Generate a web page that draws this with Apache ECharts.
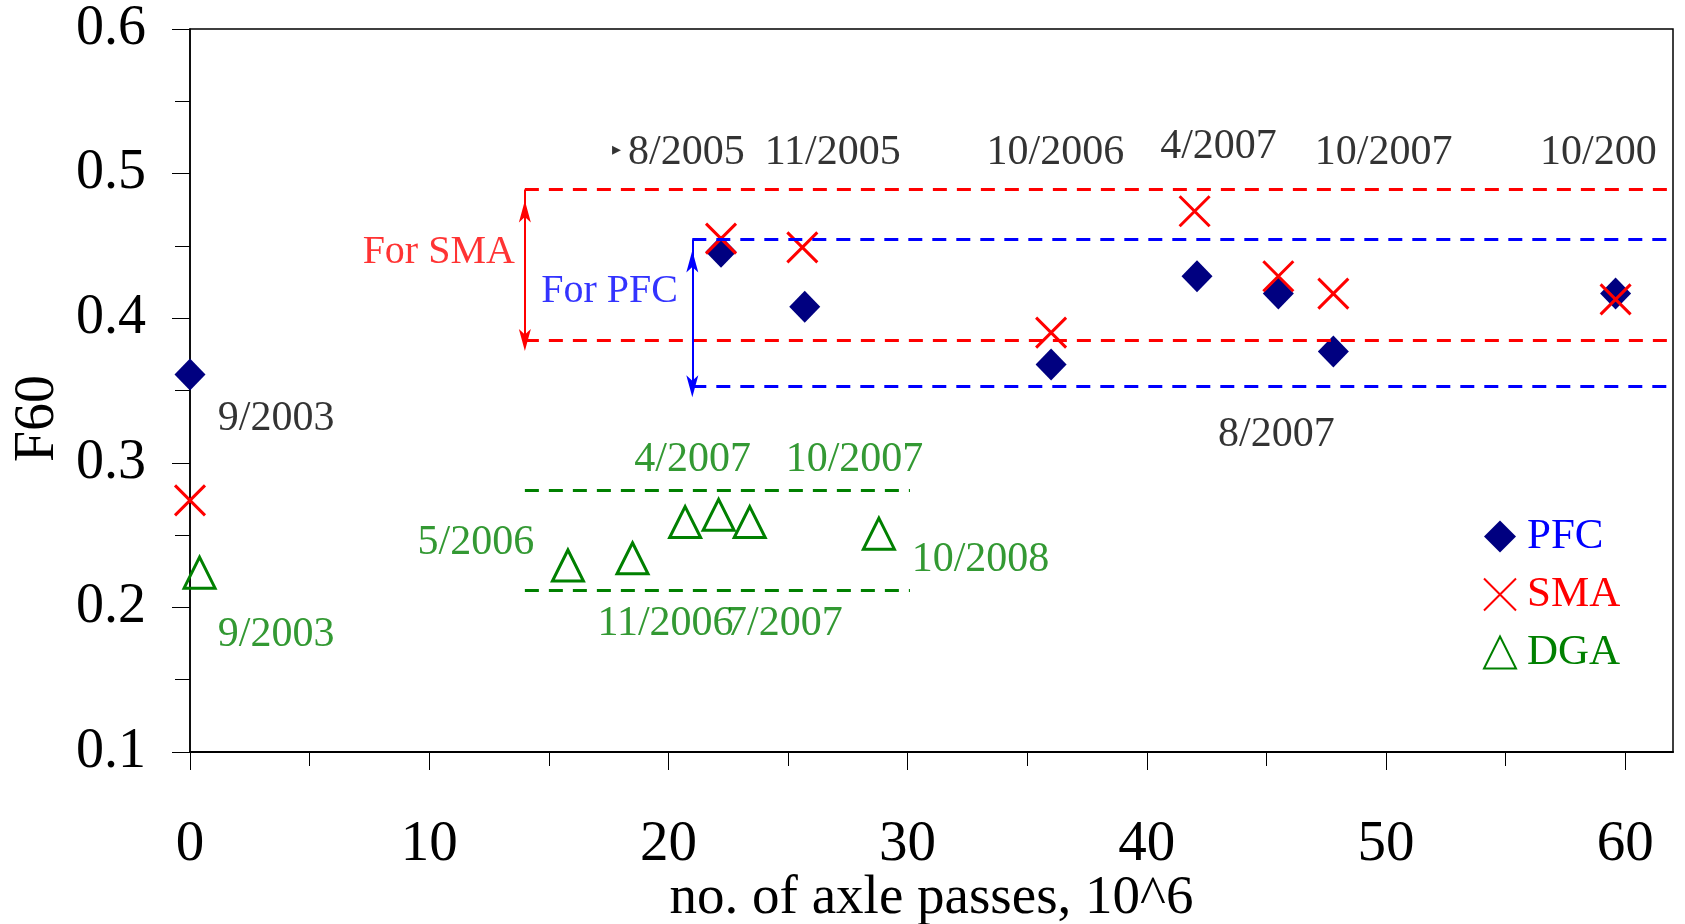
<!DOCTYPE html>
<html>
<head>
<meta charset="utf-8">
<script src="https://cdn.jsdelivr.net/npm/echarts@6/dist/echarts.min.js"></script>
<style>
html,body{margin:0;padding:0;background:#fff;}
#chart{width:1685px;height:924px;}
</style>
</head>
<body>
<div id="chart"></div>
<script>
// ---- data ----
const xMajorTicks = [0, 10, 20, 30, 40, 50, 60];
const xMinorTicks = [5, 15, 25, 35, 45, 55];

const pfcX = [0, 22.2, 25.7, 36.0, 42.1, 45.5, 47.8, 59.6];
const pfcY = [0.361, 0.446, 0.408, 0.368, 0.429, 0.417, 0.377, 0.417];

const smaX = [0, 22.2, 25.6, 36.0, 42.0, 45.5, 47.8, 59.6];
const smaY = [0.274, 0.455, 0.449, 0.390, 0.474, 0.429, 0.417, 0.413];

const dgaX = [0.4, 15.8, 18.5, 20.7, 22.1, 23.4, 28.8];
const dgaY = [0.224, 0.229, 0.234, 0.259, 0.264, 0.259, 0.251];

// range bands: [xStart, xEnd, yLow, yHigh]
const smaBand = [14, 62, 0.385, 0.489];
const pfcBand = [21, 62, 0.353, 0.4545];
const dgaBand = [14, 30.1, 0.212, 0.281];

// date annotations (anchored in data units)
const pfcLabelText = ['9/2003', '8/2005', '11/2005', '10/2006', '4/2007', '10/2007', '10/200', '8/2007'];
const pfcLabelX    = [3.6, 20.75, 26.87, 36.18, 43.0, 49.9, 58.88, 45.42];
const pfcLabelY    = [0.33, 0.5145, 0.5145, 0.5145, 0.5184, 0.5145, 0.5145, 0.3192];

const dgaLabelText = ['9/2003', '5/2006', '4/2007', '10/2007', '10/2008', '11/2006', '7/2007'];
const dgaLabelX    = [3.6, 11.95, 21.01, 27.78, 33.05, 19.88, 24.85];
const dgaLabelY    = [0.181, 0.2445, 0.302, 0.302, 0.2328, 0.1885, 0.1885];

const pointerText = ['▸'];
const pointerX = [17.83];
const pointerY = [0.516];

const bandText = ['For SMA', 'For PFC'];
const bandTextX = [10.4, 17.54];
const bandTextY = [0.4454, 0.4188];

// ---- chart ----
const FONT = 'Liberation Serif';
const zip = (xs, ys, extra) => xs.map((x, i) => extra ? [x, ys[i], extra[i]] : [x, ys[i]]);

const dash = [14, 10];
function bandLines(b, color) {
  return [
    [{coord: [b[0], b[3]]}, {coord: [b[1], b[3]]}],
    [{coord: [b[0], b[2]]}, {coord: [b[1], b[2]]}]
  ].map(seg => { seg[0].lineStyle = {color: color, type: dash, width: 3}; return seg; });
}

function labelSeries(name, xs, ys, texts, color, size) {
  return {
    name: name, type: 'scatter', symbolSize: 0, silent: true, z: 5,
    data: zip(xs, ys, texts),
    label: {
      show: true, position: 'inside', formatter: p => p.value[2],
      color: color, fontFamily: FONT, fontSize: size
    }
  };
}

// double-headed arrow spanning a band: vertical shaft + two arrowheads
function arrowSeries(b, color) {
  return {
    name: 'arrow', type: 'scatter', silent: true, z: 2,
    symbol: 'arrow', symbolSize: [9, 22], symbolOffset: [0, 11],
    itemStyle: {color: color, opacity: 1},
    data: [
      {value: [b[0], b[3]], symbolRotate: 0},
      {value: [b[0], b[2]], symbolRotate: 180}
    ],
    markLine: {
      silent: true, symbol: 'none', label: {show: false}, animation: false,
      lineStyle: {color: color, type: 'solid', width: 2},
      data: [[{coord: [b[0], b[2]]}, {coord: [b[0], b[3]]}]]
    }
  };
}

const bandTextColors = ['#FF0000', '#0000FF'];

const chart = echarts.init(document.getElementById('chart'));
chart.setOption({
  animation: false,
  backgroundColor: '#fff',
  grid: {left: 190, right: 12, top: 29, bottom: 172, show: true, borderColor: '#000', borderWidth: 1.5,
         backgroundColor: 'transparent', containLabel: false, outerBoundsMode: 'none'},
  legend: {
    orient: 'vertical', left: 1478, top: 510, itemWidth: 32, itemHeight: 32, itemGap: 15,
    textStyle: {fontFamily: FONT, fontSize: 43, padding: [0, 0, 0, 6]},
    data: [
      {name: 'PFC', textStyle: {color: '#0000FF'}},
      {name: 'SMA', textStyle: {color: '#FF0000'}},
      {name: 'DGA', textStyle: {color: '#008000'}}
    ]
  },
  xAxis: [{
    type: 'value', min: 0, max: 62, interval: 10, position: 'bottom',
    name: 'no. of axle passes, 10^6', nameLocation: 'middle', nameGap: 119, nameMoveOverlap: false,
    nameTextStyle: {fontFamily: FONT, fontSize: 55, color: '#000'},
    axisLine: {show: true, lineStyle: {color: '#000', width: 2}},
    axisTick: {show: true, length: 18, customValues: xMajorTicks, lineStyle: {color: '#000', width: 1}},
    axisLabel: {customValues: xMajorTicks, margin: 65, fontFamily: FONT, fontSize: 57, color: '#000'},
    splitLine: {show: false}
  }, {
    type: 'value', min: 0, max: 62, interval: 10, position: 'bottom',
    axisLine: {show: false},
    axisTick: {show: true, length: 14, customValues: xMinorTicks, lineStyle: {color: '#000', width: 1}},
    axisLabel: {show: false},
    splitLine: {show: false}
  }],
  yAxis: {
    type: 'value', min: 0.1, max: 0.6, interval: 0.1,
    name: 'F60', nameLocation: 'middle', nameGap: 124, nameRotate: 90, nameMoveOverlap: false,
    nameTextStyle: {fontFamily: FONT, fontSize: 56, color: '#000', padding: [0, 56, 0, 0]},
    axisLine: {show: true, lineStyle: {color: '#000', width: 1.5}},
    axisTick: {show: true, length: 18, lineStyle: {color: '#000', width: 1}},
    minorTick: {show: true, splitNumber: 2, length: 15, lineStyle: {color: '#000', width: 1}},
    axisLabel: {margin: 44, fontFamily: FONT, fontSize: 56, color: '#000', formatter: v => v.toFixed(1)},
    splitLine: {show: false}
  },
  series: [
    {
      name: 'bands', type: 'scatter', data: [], silent: true, z: 1,
      markLine: {
        silent: true, symbol: 'none', label: {show: false}, animation: false,
        data: [].concat(bandLines(smaBand, '#FF0000'), bandLines(pfcBand, '#0000FF'), bandLines(dgaBand, '#008000'))
      }
    },
    arrowSeries(smaBand, '#FF0000'),
    arrowSeries(pfcBand, '#0000FF'),
    {
      name: 'DGA', type: 'scatter', symbol: 'triangle', symbolSize: 31, z: 3,
      itemStyle: {color: 'rgba(255,255,255,0)', borderColor: '#008000', borderWidth: 3, opacity: 1},
      data: zip(dgaX, dgaY)
    },
    {
      name: 'PFC', type: 'scatter', symbol: 'diamond', symbolSize: [31, 32], z: 3,
      itemStyle: {color: '#000080', opacity: 1},
      data: zip(pfcX, pfcY)
    },
    {
      name: 'SMA', type: 'scatter', symbol: 'path://M0,0L30,30M30,0L0,30', symbolSize: 30, z: 4,
      itemStyle: {color: 'rgba(255,0,0,0)', borderColor: '#FF0000', borderWidth: 3, opacity: 1},
      data: zip(smaX, smaY)
    },
    labelSeries('pfcLabels', pfcLabelX, pfcLabelY, pfcLabelText, '#000', 42),
    labelSeries('dgaLabels', dgaLabelX, dgaLabelY, dgaLabelText, '#008000', 42),
    labelSeries('pointer', pointerX, pointerY, pointerText, '#000', 18),
    {
      name: 'bandText', type: 'scatter', symbolSize: 0, silent: true, z: 5,
      data: bandText.map((t, i) => ({value: [bandTextX[i], bandTextY[i], t], label: {color: bandTextColors[i]}})),
      label: {show: true, position: 'inside', formatter: p => p.value[2], fontFamily: FONT, fontSize: 40}
    }
  ]
});
</script>
</body>
</html>
